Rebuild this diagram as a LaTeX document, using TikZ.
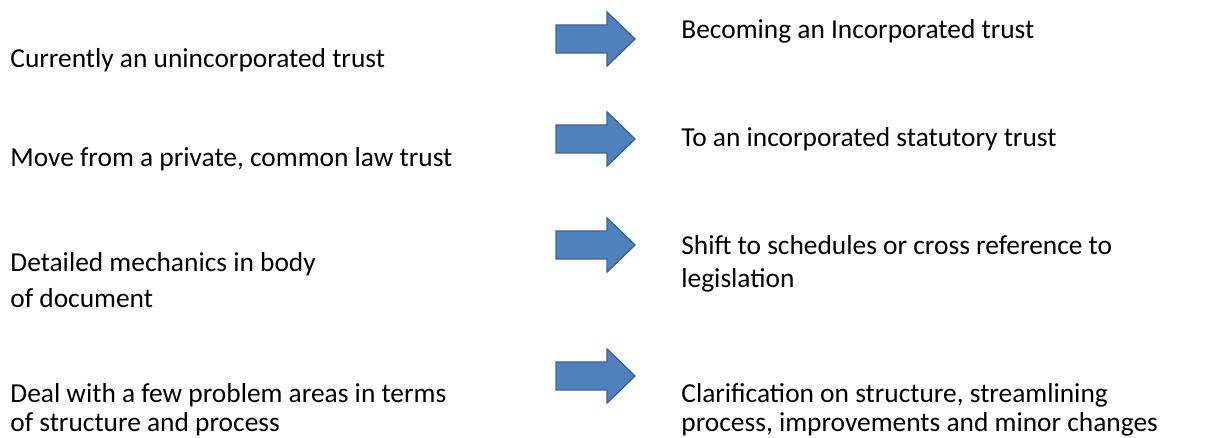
\documentclass[tikz,border=0pt]{standalone}
\usepackage{fontspec}
\setmainfont{Carlito}
\definecolor{arrowfill}{HTML}{4F81BD}
\definecolor{arrowline}{HTML}{3A6496}
\begin{document}
\begin{tikzpicture}[x=0.5pt,y=-0.5pt,
  txt/.style={anchor=base west, inner sep=0pt, font=\fontsize{13.7}{16}\selectfont},
  blockarrow/.style={fill=arrowfill, draw=arrowline, line width=0.7pt, line join=miter},
  rarrow/.pic={\draw[blockarrow] (0,-14) -- (51,-14) -- (51,-27) -- (79,0)
                 -- (51,27) -- (51,14) -- (0,14) -- cycle;}]
\useasboundingbox (0,0) rectangle (1206,438);

% left column: current situation
\node[txt] (cur)   at (10,68)  {Currently an unincorporated trust};
\node[txt] (move)  at (10,167) {Move from a private, common law trust};
\node[txt] (det1)  at (10,272) {Detailed mechanics in body};
\node[txt] (det2)  at (10,308) {of document};
\node[txt] (deal1) at (10,402) {Deal with a few problem areas in terms};
\node[txt] (deal2) at (10,432) {of structure and process};

% block arrows
\pic at (556,39)  {rarrow};
\pic at (556,139) {rarrow};
\pic at (556,245) {rarrow};
\pic at (556,376) {rarrow};

% right column: proposed change
\node[txt] (inc)   at (681,39)  {Becoming an Incorporated trust};
\node[txt] (stat)  at (681,147) {To an incorporated statutory trust};
\node[txt] (sch1)  at (681,255) {Shift to schedules or cross reference to};
\node[txt] (sch2)  at (681,288) {legislation};
\node[txt] (clar1) at (681,402) {Clarification on structure, streamlining};
\node[txt] (clar2) at (681,432) {process, improvements and minor changes};
\end{tikzpicture}
\end{document}
